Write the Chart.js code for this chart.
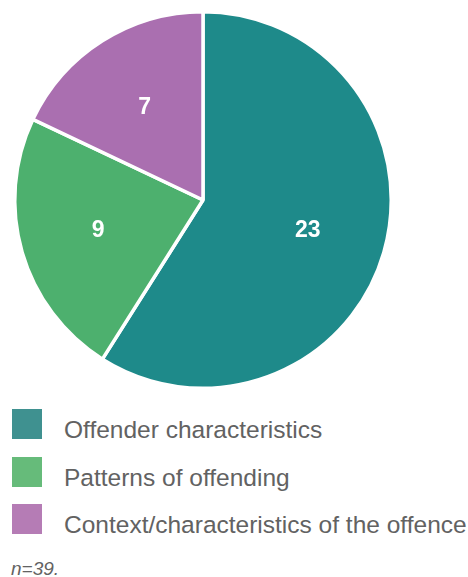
<!DOCTYPE html>
<html>
<head>
<meta charset="utf-8">
<script src="https://cdn.jsdelivr.net/npm/chart.js@4/dist/chart.umd.min.js"></script>
<style>
    body { margin: 0; background: #fff; font-family: 'Liberation Sans', Arial, sans-serif; }
    #wrap { position: relative; width: 468px; height: 577px; }
    #chartBox { position: absolute; left: 0; top: 0; width: 406px; height: 400px; }
    .legend { position: absolute; left: 12px; top: 409px; }
    .row { position: relative; height: 30px; margin-bottom: 17.5px; }
    .box { position: absolute; left: 0; top: 0; width: 30px; height: 30px; }
    .row span { position: absolute; left: 52px; top: 6px; font-size: 24.5px; line-height: 30px; color: #626262; white-space: nowrap; }
    .note { position: absolute; left: 11px; top: 559px; font-size: 19px; line-height: 19px; font-style: italic; color: #626262; }
</style>
</head>
<body>
<div id="wrap">
    <div id="chartBox"><canvas id="pie"></canvas></div>
    <div class="legend" id="legend"></div>
    <div class="note">n=39.</div>
</div>
<script>
const labels = ['Offender characteristics', 'Patterns of offending', 'Context/characteristics of the offence'];
const counts = [23, 9, 7];
const sliceColors = ['#1e8a8a', '#4db06e', '#aa6fb0'];
const legendColors = ['#3f9190', '#66bb7a', '#b57cb5'];

// white numbers inside the slices
const sliceLabels = {
    id: 'sliceLabels',
    afterDatasetsDraw(chart) {
        const ctx = chart.ctx;
        const meta = chart.getDatasetMeta(0);
        ctx.save();
        ctx.fillStyle = '#fff';
        ctx.font = "bold 23px 'Liberation Sans', Arial, sans-serif";
        ctx.textAlign = 'center';
        ctx.textBaseline = 'middle';
        meta.data.forEach(function (arc, i) {
            const p = arc.getProps(['x', 'y', 'startAngle', 'endAngle', 'outerRadius']);
            const mid = (p.startAngle + p.endAngle) / 2;
            const r = p.outerRadius * 0.58;
            ctx.fillText(String(counts[i]), p.x + Math.cos(mid) * r, p.y + Math.sin(mid) * r);
        });
        ctx.restore();
    }
};

new Chart(document.getElementById('pie'), {
    type: 'pie',
    data: {
        labels: labels,
        datasets: [{
            data: counts,
            backgroundColor: sliceColors,
            borderColor: '#ffffff',
            borderWidth: 3.5
        }]
    },
    options: {
        responsive: true,
        maintainAspectRatio: false,
        animation: false,
        events: [],
        layout: { padding: { top: 10, bottom: 10, left: 13, right: 13 } },
        plugins: {
            legend: { display: false },
            tooltip: { enabled: false }
        }
    },
    plugins: [sliceLabels]
});

const legend = document.getElementById('legend');
labels.forEach(function (name, i) {
    const row = document.createElement('div');
    row.className = 'row';
    row.innerHTML = '<div class="box" style="background:' + legendColors[i] + '"></div><span>' + name + '</span>';
    legend.appendChild(row);
});
</script>
</body>
</html>
